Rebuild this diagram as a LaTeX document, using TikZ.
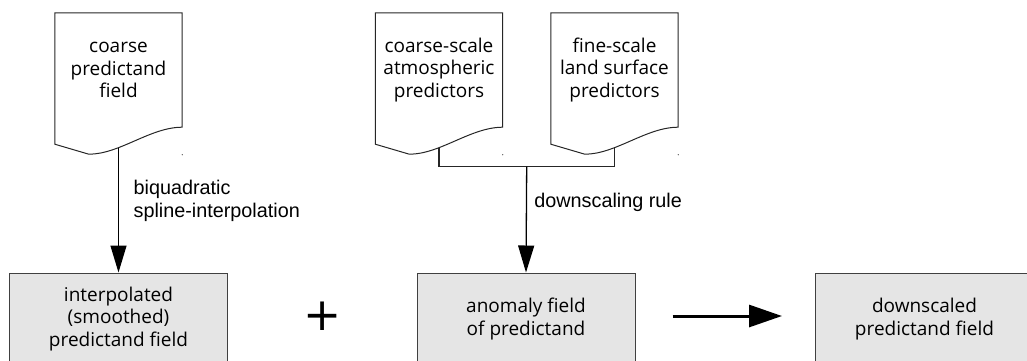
\documentclass[tikz,border=0pt]{standalone}
\usepackage{fontspec}
\setmainfont{Liberation Sans}
\newfontfamily\boxfont{Open Sans}
\newfontfamily\plusfont{DejaVu Sans}
\usetikzlibrary{arrows.meta,calc}

% document-shaped outline round a rectangular node
\newcommand\docoutline[1]{%
  \draw[docline] (#1.north west) -- (#1.north east) -- (#1.south east)
    .. controls +(-32,0) and +(31,0) .. ($(#1.south west)+(34,27)$)
    -- ($(#1.south west)+(0,17)$) -- cycle;
  \coordinate (#1tail) at ($(#1.south)+(0,21)$);
  \fill[black!75] ($(#1.south east)+(0,27.5)$) circle (0.6pt);}

\begin{document}
\begin{tikzpicture}[x=1pt,y=-1pt,
  doctext/.style={font=\boxfont\fontsize{19}{22.5}\selectfont, align=center,
    minimum width=127pt, minimum height=114pt, inner sep=0pt},
  docline/.style={draw=black!85, line width=1pt},
  field/.style={draw=black!75, fill=black!10, line width=1pt,
    minimum width=218pt, minimum height=92pt, inner sep=0pt, align=center,
    font=\boxfont\fontsize{19}{22.5}\selectfont},
  flow/.style={-{Triangle[length=27pt,width=16pt]}, line width=1.3pt},
  bigflow/.style={-{Triangle[length=33pt,width=22pt]}, line width=3pt},
  lbl/.style={font=\fontsize{19.8}{23}\selectfont, align=left, inner sep=0pt, anchor=west}]
\useasboundingbox (0,0) rectangle (1027,360);
\clip (0,0) rectangle (1027,360);

% input documents
\node[doctext] (d1) at (118.5,70) {coarse\\predictand\\field};
\node[doctext] (d2) at (439,70) {coarse-scale\\atmospheric\\predictors};
\node[doctext] (d3) at (614.5,70) {fine-scale\\land surface\\predictors};
\docoutline{d1}
\docoutline{d2}
\docoutline{d3}

% fields
\node[field] (b1) at (118.5,319) {interpolated\\(smoothed)\\predictand field};
\node[field] (b2) at (526,319) {anomaly field\\of predictand};
\node[field] (b3) at (924.5,319) {downscaled\\predictand field};

% interpolation branch
\draw[flow] (d1tail) -- (b1.north)
  node[lbl, pos=0.42, xshift=14.5pt] (interp) {biquadratic\\spline-interpolation};

% downscaling branch
\coordinate (join) at ($(b2.north)+(0.7,-106)$);
\draw[docline, line width=1.2pt] (d2tail) |- (join) -| (d3tail);
\draw[flow] (join) -- (b2.north)
  node[lbl, pos=0.34, xshift=7.3pt] (rule) {downscaling rule};

% combination
\node[font=\plusfont\fontsize{45.5}{45.5}\selectfont, inner sep=0pt] (plus) at (322.3,316.5) {+};
\draw[bigflow] ($(b2.east)+(37,-3)$) -- ($(b3.west)+(-33,-3)$);
\end{tikzpicture}
\end{document}
